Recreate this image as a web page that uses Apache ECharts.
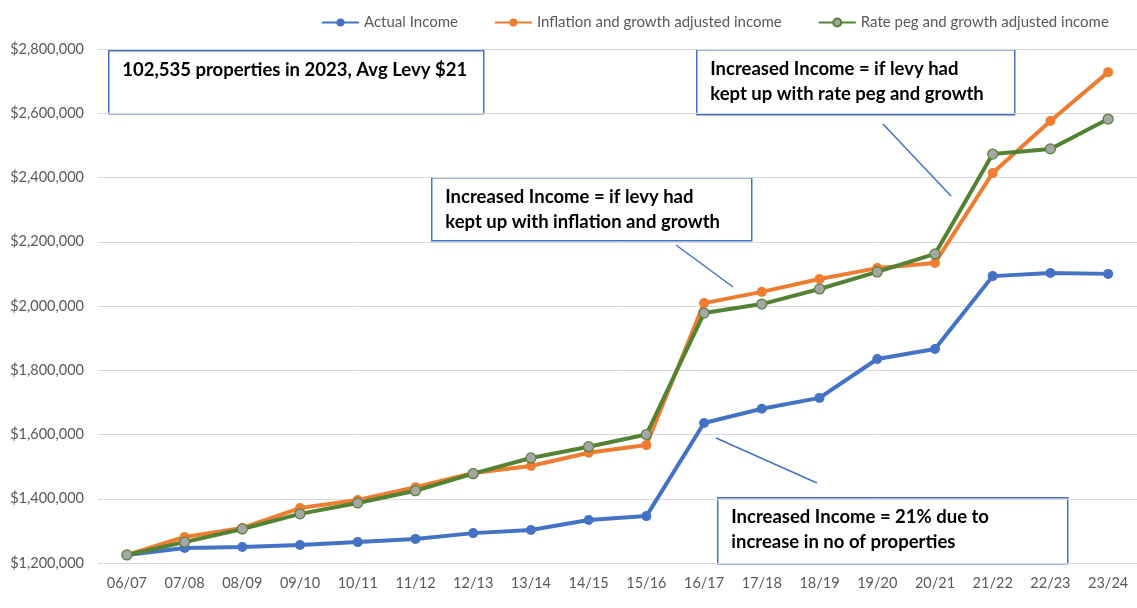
<!DOCTYPE html>
<html>
<head>
<meta charset="utf-8">
<script src="https://cdn.jsdelivr.net/npm/echarts@6/dist/echarts.min.js"></script>
<style>
  html, body { margin: 0; padding: 0; background: #fff; }
  #chart { width: 1137px; height: 608px; }
</style>
</head>
<body>
<div id="chart"></div>
<script>
// financial years
const years = ['06/07', '07/08', '08/09', '09/10', '10/11', '11/12', '12/13', '13/14', '14/15',
  '15/16', '16/17', '17/18', '18/19', '19/20', '20/21', '21/22', '22/23', '23/24']

const actualIncome = [1225000, 1247000, 1250000, 1256000, 1265000, 1275000, 1293000, 1303000, 1334000,
  1346000, 1636000, 1680000, 1714000, 1835000, 1866000, 2093000, 2103000, 2100000]

const inflationAdjusted = [1225000, 1281000, 1309000, 1371000, 1396000, 1436000, 1480000, 1502000, 1543000,
  1567000, 2009000, 2044000, 2084000, 2118000, 2134000, 2414000, 2576000, 2728000]

const ratePegAdjusted = [1225000, 1265000, 1306000, 1353000, 1387000, 1425000, 1478000, 1527000, 1562000,
  1600000, 1978000, 2006000, 2053000, 2106000, 2162000, 2473000, 2489000, 2582000]

const FONT = 'Lato, "Open Sans", sans-serif'
const BLUE = '#4472C4'

const chart = echarts.init(document.getElementById('chart'))

// text box with blue border, used for the notes on the chart
const noteBox = (x, y, w, h, text) => ({
  type: 'group',
  left: x,
  top: y,
  children: [
    {
      type: 'rect',
      shape: { x: 0.5, y: 0.5, width: w, height: h },
      style: { fill: '#fff', stroke: BLUE, lineWidth: 1.5 }
    },
    {
      type: 'text',
      x: 14,
      y: 7,
      style: {
        text: text,
        fill: '#000',
        font: 'bold 18.5px ' + FONT,
        lineHeight: 25
      }
    }
  ]
})

const pointer = (x1, y1, x2, y2) => ({
  type: 'line',
  shape: { x1: x1, y1: y1, x2: x2, y2: y2 },
  style: { stroke: BLUE, lineWidth: 1.5 },
  z: 10
})

const lineSeries = (name, data, color, marker) => ({
  name: name,
  type: 'line',
  data: data,
  symbol: 'circle',
  symbolSize: 10,
  lineStyle: { color: color, width: 4 },
  itemStyle: { color: marker || color, borderColor: color, borderWidth: marker ? 1.2 : 0 },
  emphasis: { disabled: true },
  animation: false
})

chart.setOption({
  backgroundColor: '#fff',
  textStyle: { fontFamily: FONT },
  legend: {
    top: 10,
    left: 316,
    itemGap: 36,
    itemWidth: 37,
    itemHeight: 10,
    textStyle: { color: '#595959', fontSize: 15, fontFamily: FONT },
    data: ['Actual Income', 'Inflation and growth adjusted income', 'Rate peg and growth adjusted income']
  },
  grid: { left: 98, right: -3, top: 49, bottom: 45, containLabel: false },
  xAxis: {
    type: 'category',
    data: years,
    boundaryGap: true,
    axisLine: { lineStyle: { color: '#D9D9D9' } },
    axisTick: { show: false },
    axisLabel: { color: '#595959', fontSize: 14.5, margin: 13, fontFamily: FONT }
  },
  yAxis: {
    type: 'value',
    min: 1200000,
    max: 2800000,
    interval: 200000,
    axisLine: { show: false },
    axisTick: { show: false },
    splitLine: { lineStyle: { color: '#D9D9D9', width: 1 } },
    axisLabel: {
      color: '#595959',
      fontSize: 14.5,
      margin: 14,
      fontFamily: FONT,
      formatter: v => '$' + v.toLocaleString('en-US')
    }
  },
  series: [
    lineSeries('Actual Income', actualIncome, BLUE),
    lineSeries('Inflation and growth adjusted income', inflationAdjusted, '#ED7D31'),
    lineSeries('Rate peg and growth adjusted income', ratePegAdjusted, '#548235', '#A5A5A5')
  ],
  graphic: [
    noteBox(108, 50, 375, 63, '102,535 properties in 2023, Avg Levy $21'),
    noteBox(431, 177, 320, 63, 'Increased Income = if levy had\nkept up with inflation and growth'),
    noteBox(696, 49, 318, 65, 'Increased Income = if levy had\nkept up with rate peg and growth'),
    noteBox(717, 497, 350, 66, 'Increased Income = 21% due to\nincrease in no of properties'),
    pointer(676, 245, 733, 287),
    pointer(883, 124, 951, 196),
    pointer(716, 438, 817, 483)
  ]
})
</script>
</body>
</html>
